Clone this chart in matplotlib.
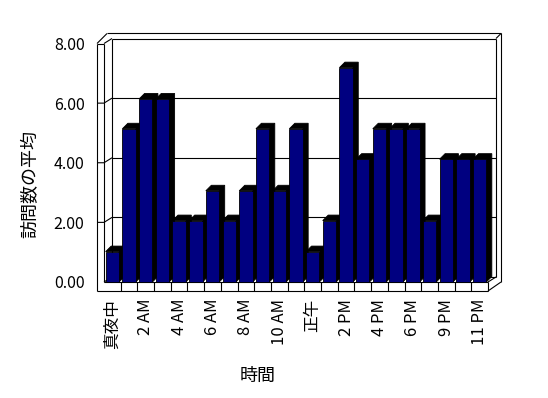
import matplotlib
matplotlib.use("Agg")
import matplotlib.pyplot as plt
from matplotlib.patches import Polygon

plt.rcParams['font.family'] = ['Noto Sans CJK JP', 'DejaVu Sans']

categories = ['真夜中', '1 AM', '2 AM', '3 AM', '4 AM', '5 AM', '6 AM', '7 AM', '8 AM',
              '9 AM', '10 AM', '11 AM', '正午', '1 PM', '2 PM', '3 PM', '4 PM', '5 PM',
              '6 PM', '8 PM', '9 PM', '10 PM', '11 PM']
values = [1.02, 5.14, 6.14, 6.14, 2.06, 2.06, 3.06, 2.06, 3.06, 5.14, 3.06, 5.14,
          1.02, 2.06, 7.19, 4.12, 5.14, 5.14, 5.14, 2.06, 4.12, 4.12, 4.12]
y_ticks = [0, 2, 4, 6, 8]
y_tick_labels = ['0.00', '2.00', '4.00', '6.00', '8.00']
x_label = '時間'
y_label = '訪問数の平均'

W, H = 548, 398
fig = plt.figure(figsize=(W / 100, H / 100), dpi=100)
left_px, right_px, bottom_px, top_px = 104, 488, 282, 43.5
ax = fig.add_axes([left_px / W, (H - bottom_px) / H, (right_px - left_px) / W,
                   (bottom_px - top_px) / H])
n = len(categories)
xmin, xmax = -0.5, n - 0.5
ymin, ymax = 0, 8
ax.set_xlim(xmin, xmax)
ax.set_ylim(ymin, ymax)
for s in ax.spines.values():
    s.set_visible(False)
ax.patch.set_visible(False)

sx = (right_px - left_px) / (xmax - xmin)
sy = (bottom_px - top_px) / (ymax - ymin)


def P(xd, yd, ox=0.0, oy=0.0):
    return (xd + ox / sx, yd + oy / sy)


def line(pts, z=1, lw=0.8):
    xs = [p[0] for p in pts]
    ys = [p[1] for p in pts]
    ax.plot(xs, ys, color='black', lw=lw, clip_on=False, zorder=z,
            solid_capstyle='butt', solid_joinstyle='miter')


# wall geometry (pixel offsets)
wall_t = 7      # left wall / floor thickness
floor_t = 9
bdx, bdy = 8, 5     # back wall offset
odx, ody = 13, 10   # outer back edge offset

bw = Polygon([P(xmin, ymin, bdx, bdy), P(xmax, ymin, bdx, bdy),
              P(xmax, ymax, bdx, bdy), P(xmin, ymax, bdx, bdy)],
             closed=True, facecolor='white', edgecolor='none', clip_on=False, zorder=0)
ax.add_patch(bw)

# back wall gridlines + ticks on left wall
for v in y_ticks:
    line([P(xmin, v, bdx, bdy), P(xmax, v, bdx, bdy)], z=1)
    if ymin < v < ymax:
        line([P(xmin, v, -wall_t, 0), P(xmin, v), P(xmin, v, bdx, bdy)], z=1)

line([P(xmin, ymin), P(xmin, ymin, bdx, bdy)], z=1)
line([P(xmin, ymin, bdx, bdy), P(xmin, ymax, bdx, bdy)], z=1)

# left wall
line([P(xmin, ymax, -wall_t, 0), P(xmin, ymin, -wall_t, -floor_t)], z=1)
line([P(xmin, ymax), P(xmin, ymin)], z=1)
line([P(xmin, ymax, -wall_t, 0), P(xmin, ymax)], z=1)
line([P(xmin, ymax, -wall_t, 0), P(xmin, ymax, -wall_t + 10, ody)], z=1)
line([P(xmin, ymax), P(xmin, ymax, bdx, bdy)], z=1)

# top outer edge of back wall
line([P(xmin, ymax, -wall_t + 10, ody), P(xmax, ymax, odx, ody)], z=1)
# right side
line([P(xmax, ymax, bdx, bdy), P(xmax, ymax, odx, ody)], z=1)
line([P(xmax, ymax, odx, ody), P(xmax, ymin, odx, 0)], z=1)
line([P(xmax, ymin, bdx, bdy), P(xmax, ymax, bdx, bdy)], z=1)
line([P(xmax, ymin), P(xmax, ymin, bdx, bdy)], z=1)
line([P(xmax, ymin, 0, -floor_t), P(xmax, ymin, odx, 0)], z=1)

# floor front slab
line([P(xmin, ymin, -wall_t, -floor_t), P(xmax, ymin, 0, -floor_t)], z=1)
line([P(xmin, ymin), P(xmax, ymin)], z=1)
line([P(xmax, ymin), P(xmax, ymin, 0, -floor_t)], z=1)
for k in range(n - 1):
    line([P(k + 0.5, ymin), P(k + 0.5, ymin, 0, -floor_t)], z=1)

# bars
w = 0.8
ddx, ddy = 5.5, 5.5
for i, v in enumerate(values):
    x0, x1 = i - w / 2, i + w / 2
    side = Polygon([P(x1, 0), P(x1, 0, ddx, ddy), P(x1, v, ddx, ddy),
                    P(x0, v, ddx, ddy), P(x0, v), P(x1, v)],
                   closed=True, facecolor='black', edgecolor='black', lw=0.6,
                   zorder=5 + 2 * i, clip_on=False)
    ax.add_patch(side)
    ax.bar(i, v, width=w, color='#000080', edgecolor='black', linewidth=0.6,
           zorder=6 + 2 * i, clip_on=False)

# ticks and labels
ax.set_yticks(y_ticks, y_tick_labels, fontsize=11.5)
ax.tick_params(axis='y', length=0, pad=14)
tick_pos = list(range(0, n, 2))
ax.set_xticks(tick_pos, [categories[k] for k in tick_pos], rotation=90, fontsize=12)
ax.tick_params(axis='x', length=0, pad=12)

fig.text(258 / W, 1 - 376 / H, x_label, ha='center', va='center', fontsize=13)
fig.text(30 / W, 1 - 184 / H, y_label, ha='center', va='center', rotation=90, fontsize=13)

fig.savefig('out.png', dpi=100)
